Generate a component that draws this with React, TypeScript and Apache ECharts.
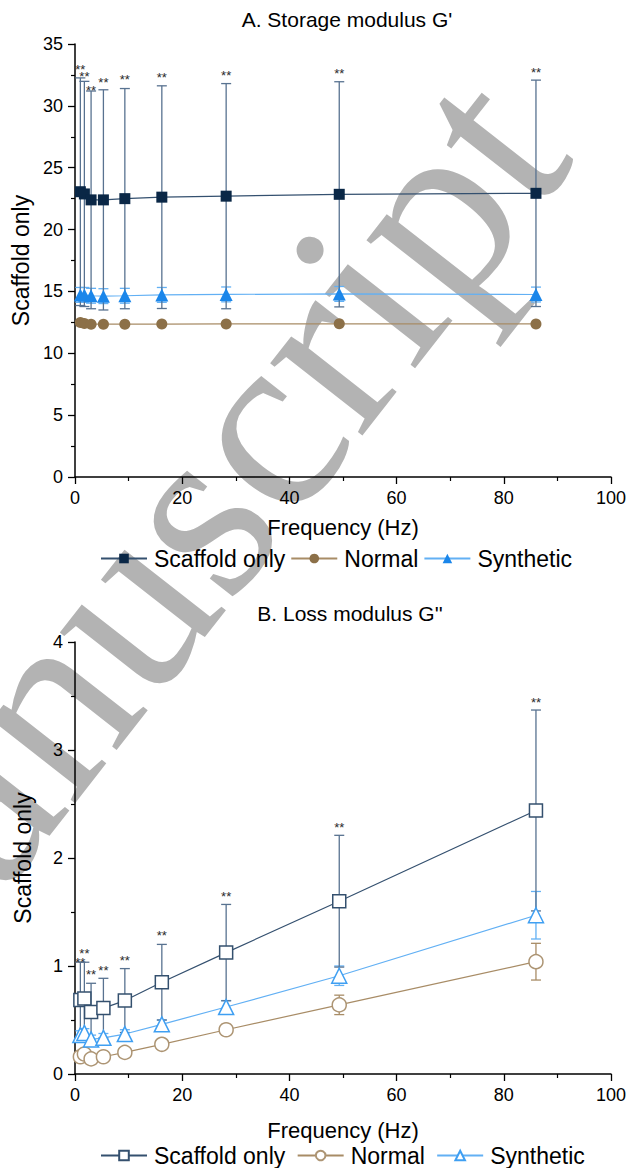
import React, { useEffect, useRef } from "react";
import * as echarts from "echarts";

// ---- data ----
const FREQ = [1.0, 1.75, 3.0, 5.3, 9.3, 16.2, 28.2, 49.3, 86.0];

const G1_SCAFFOLD = [23.06, 22.88, 22.4, 22.4, 22.5, 22.62, 22.7, 22.85, 22.93];
const G1_SCAFFOLD_ERR = [9.2, 9.1, 8.8, 8.9, 8.9, 9.0, 9.1, 9.1, 9.15];
const G1_NORMAL = [12.48, 12.4, 12.35, 12.35, 12.35, 12.36, 12.37, 12.38, 12.37];
const G1_NORMAL_ERR = [0.1, 0.1, 0.1, 0.1, 0.1, 0.1, 0.1, 0.1, 0.1];
const G1_SYNTH = [14.72, 14.72, 14.65, 14.62, 14.65, 14.72, 14.76, 14.8, 14.75];
const G1_SYNTH_ERR = [0.6, 0.6, 0.6, 0.6, 0.6, 0.6, 0.6, 0.6, 0.6];
// significance marks and the value at which each is written
const G1_STARS = ["**", "**", "**", "**", "**", "**", "**", "**", "**"];
const G1_STAR_AT = [33.2, 32.65, 31.5, 32.1, 32.35, 32.5, 32.7, 32.85, 32.95];

const G2_SCAFFOLD = [0.686, 0.7, 0.575, 0.61, 0.68, 0.85, 1.124, 1.6, 2.44];
const G2_SCAFFOLD_ERR = [0.35, 0.335, 0.265, 0.276, 0.296, 0.35, 0.446, 0.61, 0.93];
const G2_NORMAL = [0.16, 0.185, 0.14, 0.16, 0.2, 0.275, 0.41, 0.64, 1.04];
const G2_NORMAL_ERR = [0.03, 0.03, 0.03, 0.03, 0.03, 0.03, 0.05, 0.09, 0.17];
const G2_SYNTH = [0.36, 0.38, 0.32, 0.335, 0.37, 0.46, 0.62, 0.91, 1.47];
const G2_SYNTH_ERR = [0.04, 0.04, 0.04, 0.04, 0.04, 0.04, 0.06, 0.09, 0.22];
const G2_STARS = ["**", "**", "**", "**", "**", "**", "**", "**", "**"];
const G2_STAR_AT = [1.06, 1.14, 0.95, 0.99, 1.08, 1.31, 1.67, 2.31, 3.47];

const SERIES_NAMES = ["Scaffold only", "Normal", "Synthetic"];
const TITLE_A = "A. Storage modulus G'";
const TITLE_B = "B. Loss modulus G''";
const X_NAME = "Frequency (Hz)";
const Y_NAME = "Scaffold only";
const WATERMARK = "Manuscript";

// ---- styles ----
const FONT = "Liberation Sans";
const C_SCAF = "#0a2746";
const C_SCAF_LINE = "#34506f";
const C_SCAF_ERR = "#587290";
const C_NORM = "#8c7048";
const C_NORM_LINE = "#a88c66";
const C_SYN = "#1a86ea";
const C_SYN_LINE = "#62b0f4";

function pts(ys: number[]) {
  return FREQ.map((f, i) => [f, ys[i]]);
}
function errPts(ys: number[], es: number[], stars?: string[], starAt?: number[]) {
  return FREQ.map((f, i) => [
    f,
    ys[i] - es[i],
    ys[i] + es[i],
    starAt ? starAt[i] : 0,
    stars ? stars[i] : "",
  ]);
}

function errSeries(
  idx: number,
  ys: number[],
  es: number[],
  color: string,
  stars?: string[],
  starAt?: number[]
) {
  return {
    type: "custom",
    xAxisIndex: idx,
    yAxisIndex: idx,
    silent: true,
    z: 1,
    data: errPts(ys, es, stars, starAt),
    encode: { x: 0, y: [1, 2] },
    renderItem: (params: any, api: any) => {
      const x = api.value(0);
      const lo = api.coord([x, api.value(1)]);
      const hi = api.coord([x, api.value(2)]);
      const w = 5;
      const st = { stroke: color, lineWidth: 1.3 };
      const children: any[] = [
        { type: "line", shape: { x1: lo[0], y1: lo[1], x2: hi[0], y2: hi[1] }, style: st },
        { type: "line", shape: { x1: hi[0] - w, y1: hi[1], x2: hi[0] + w, y2: hi[1] }, style: st },
        { type: "line", shape: { x1: lo[0] - w, y1: lo[1], x2: lo[0] + w, y2: lo[1] }, style: st },
      ];
      const s = api.value(4);
      if (s) {
        const sp = api.coord([x, api.value(3)]);
        children.push({
          type: "text",
          x: sp[0],
          y: sp[1] + 3,
          style: {
            text: String(s),
            fontSize: 13,
            fontFamily: FONT,
            fill: "#2a2a2a",
            textAlign: "center",
            textVerticalAlign: "middle",
          },
        });
      }
      return { type: "group", children };
    },
  };
}

function lineSeries(
  idx: number,
  name: string,
  ys: number[],
  symbol: string,
  size: number,
  fill: string,
  stroke: string,
  lineColor: string
) {
  return {
    type: "line",
    name,
    xAxisIndex: idx,
    yAxisIndex: idx,
    data: pts(ys),
    symbol,
    symbolSize: size,
    showAllSymbol: true,
    z: 3,
    lineStyle: { color: lineColor, width: 1.2 },
    itemStyle: { color: fill, borderColor: stroke, borderWidth: idx === 1 ? 1.5 : 0 },
  };
}

function xAxis(idx: number, gap: number) {
  return {
    type: "value",
    gridIndex: idx,
    min: 0,
    max: 100,
    interval: 20,
    name: X_NAME,
    nameLocation: "middle",
    nameGap: gap,
    nameTextStyle: { fontSize: 22, fontFamily: FONT, color: "#000" },
    axisLine: { show: true, onZero: false, lineStyle: { color: "#000", width: 1.5 } },
    axisTick: { show: true, length: 7, lineStyle: { color: "#000", width: 1.3 } },
    minorTick: { show: true, splitNumber: 2, length: 4, lineStyle: { color: "#000", width: 1.2 } },
    splitLine: { show: false },
    axisLabel: { fontSize: 18, fontFamily: FONT, color: "#000", margin: 12 },
  };
}

function yAxis(idx: number, max: number, interval: number) {
  return {
    type: "value",
    gridIndex: idx,
    min: 0,
    max,
    interval,
    name: Y_NAME,
    nameLocation: "middle",
    nameGap: 41,
    nameTextStyle: { fontSize: 23, fontFamily: FONT, color: "#000" },
    axisLine: { show: true, lineStyle: { color: "#000", width: 1.5 } },
    axisTick: { show: true, length: 7, lineStyle: { color: "#000", width: 1.3 } },
    minorTick: { show: true, splitNumber: 2, length: 4, lineStyle: { color: "#000", width: 1.2 } },
    splitLine: { show: false },
    axisLabel: { fontSize: 18, fontFamily: FONT, color: "#000", margin: 12 },
  };
}

function legend(idx: number, top: number) {
  return {
    show: true,
    left: 95,
    top,
    itemWidth: 46,
    itemHeight: 12,
    itemGap: 5,
    textStyle: { fontSize: 23, fontFamily: FONT, color: "#000", padding: [0, 0, 0, 2] },
    data: SERIES_NAMES.map((n) => n + (idx === 1 ? " " : "")),
  };
}

export default function App() {
  const ref = useRef<HTMLDivElement>(null);
  useEffect(() => {
    document.body.style.margin = "0";
    const chart = echarts.init(ref.current!, null, { renderer: "svg" });
    const option: any = {
      animation: false,
      backgroundColor: "#fff",
      title: [
        {
          text: TITLE_A,
          left: 342,
          top: 4,
          textAlign: "center",
          textStyle: { fontSize: 21, fontWeight: "normal", fontFamily: FONT, color: "#000" },
        },
        {
          text: TITLE_B,
          left: 345,
          top: 598,
          textAlign: "center",
          textStyle: { fontSize: 21, fontWeight: "normal", fontFamily: FONT, color: "#000" },
        },
      ],
      legend: [legend(0, 542), legend(1, 1139)],
      grid: [
        { left: 75, top: 44, width: 536, height: 433 },
        { left: 75, top: 642, width: 536, height: 432 },
      ],
      xAxis: [xAxis(0, 39), xAxis(1, 45)],
      yAxis: [yAxis(0, 35, 5), yAxis(1, 4, 1)],
      graphic: [
        {
          type: "text",
          x: 152,
          y: 565,
          rotation: (52 * Math.PI) / 180,
          z: -10,
          silent: true,
          style: {
            text: WATERMARK,
            fontFamily: "Liberation Serif",
            fontSize: 255,
            fill: "#b3b3b3",
            textAlign: "center",
            textVerticalAlign: "middle",
          },
        },
      ],
      series: [
        errSeries(0, G1_NORMAL, G1_NORMAL_ERR, C_NORM_LINE),
        errSeries(0, G1_SYNTH, G1_SYNTH_ERR, C_SYN_LINE),
        errSeries(0, G1_SCAFFOLD, G1_SCAFFOLD_ERR, C_SCAF_ERR, G1_STARS, G1_STAR_AT),
        lineSeries(0, SERIES_NAMES[0], G1_SCAFFOLD, "rect", 11, C_SCAF, C_SCAF, C_SCAF_LINE),
        lineSeries(0, SERIES_NAMES[1], G1_NORMAL, "circle", 11, C_NORM, C_NORM, C_NORM_LINE),
        lineSeries(0, SERIES_NAMES[2], G1_SYNTH, "triangle", 13, C_SYN, C_SYN, C_SYN_LINE),
        errSeries(1, G2_NORMAL, G2_NORMAL_ERR, C_NORM_LINE),
        errSeries(1, G2_SYNTH, G2_SYNTH_ERR, C_SYN_LINE),
        errSeries(1, G2_SCAFFOLD, G2_SCAFFOLD_ERR, C_SCAF_ERR, G2_STARS, G2_STAR_AT),
        lineSeries(1, SERIES_NAMES[0] + " ", G2_SCAFFOLD, "rect", 13, "#fff", "#34506e", C_SCAF_LINE),
        lineSeries(1, SERIES_NAMES[1] + " ", G2_NORMAL, "circle", 14, "#fff", "#ad9574", C_NORM_LINE),
        lineSeries(1, SERIES_NAMES[2] + " ", G2_SYNTH, "triangle", 15, "#fff", "#3f9ff2", C_SYN_LINE),
      ],
    };
    chart.setOption(option);
    return () => chart.dispose();
  }, []);
  return <div ref={ref} style={{ width: 644, height: 1168 }} />;
}
